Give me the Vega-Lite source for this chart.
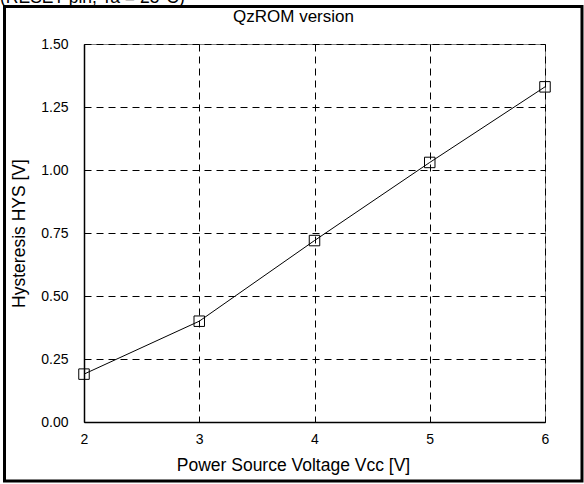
{
  "$schema": "https://vega.github.io/schema/vega-lite/v6.json",
  "autosize": "none",
  "width": 461,
  "height": 378,
  "padding": {"left": 84, "top": 44, "right": 39, "bottom": 62},
  "background": "white",
  "config": {
    "font": "Liberation Sans",
    "view": {"stroke": "#808080", "strokeWidth": 1},
    "axis": {
      "grid": true,
      "gridColor": "black",
      "gridDash": [7, 5],
      "gridWidth": 1,
      "gridOpacity": 1,
      "ticks": false,
      "domainColor": "black",
      "domainWidth": 1.5,
      "labelFont": "Liberation Sans",
      "labelFontSize": 14,
      "labelColor": "black",
      "labelFlush": false,
      "titleFont": "Liberation Sans",
      "titleFontSize": 17.5,
      "titleFontWeight": "normal",
      "titleColor": "black"
    }
  },
  "title": {
    "text": "QzROM version",
    "font": "Liberation Sans",
    "fontSize": 17,
    "fontWeight": "normal",
    "color": "black",
    "anchor": "middle",
    "dx": -21,
    "offset": -37
  },
  "datasets": {
    "hys": [
      {"vcc": 2, "hys": 0.19},
      {"vcc": 3, "hys": 0.40},
      {"vcc": 4, "hys": 0.72},
      {"vcc": 5, "hys": 1.03},
      {"vcc": 6, "hys": 1.33}
    ],
    "frame": [
      {"x1": 1.3102, "x2": 6.321, "y1": -0.2341, "y2": 1.6488}
    ],
    "note": [
      {"x": 1.2711, "y": 1.6627, "label": "(RESET pin, Ta = 25°C)"}
    ]
  },
  "layer": [
    {
      "data": {"name": "frame"},
      "mark": {"type": "rect", "fill": null, "fillOpacity": 0, "stroke": "black", "strokeWidth": 3, "clip": false},
      "encoding": {
        "x": {"field": "x1", "type": "quantitative", "scale": {"domain": [2, 6], "nice": false}},
        "x2": {"field": "x2"},
        "y": {"field": "y1", "type": "quantitative", "scale": {"domain": [0, 1.5], "nice": false}},
        "y2": {"field": "y2"}
      }
    },
    {
      "data": {"name": "note"},
      "mark": {"type": "text", "align": "left", "baseline": "alphabetic", "fontSize": 17.5, "font": "Liberation Sans", "color": "black", "clip": false},
      "encoding": {
        "x": {"field": "x", "type": "quantitative"},
        "y": {"field": "y", "type": "quantitative"},
        "text": {"field": "label"}
      }
    },
    {
      "data": {"name": "hys"},
      "mark": {"type": "line", "color": "black", "strokeWidth": 1},
      "encoding": {
        "x": {
          "field": "vcc", "type": "quantitative",
          "scale": {"domain": [2, 6], "nice": false},
          "axis": {"title": "Power Source Voltage Vcc [V]", "values": [2, 3, 4, 5, 6], "format": "d", "labelPadding": 10, "titlePadding": 10, "titleX": 209}
        },
        "y": {
          "field": "hys", "type": "quantitative",
          "scale": {"domain": [0, 1.5], "nice": false},
          "axis": {"title": "Hysteresis HYS [V]", "values": [0, 0.25, 0.5, 0.75, 1, 1.25, 1.5], "format": ".2f", "labelPadding": 16, "titlePadding": 12}
        }
      }
    },
    {
      "data": {"name": "hys"},
      "mark": {"type": "point", "shape": "square", "filled": false, "stroke": "black", "strokeWidth": 1, "size": 110, "opacity": 1},
      "encoding": {
        "x": {"field": "vcc", "type": "quantitative"},
        "y": {"field": "hys", "type": "quantitative"}
      }
    }
  ]
}
